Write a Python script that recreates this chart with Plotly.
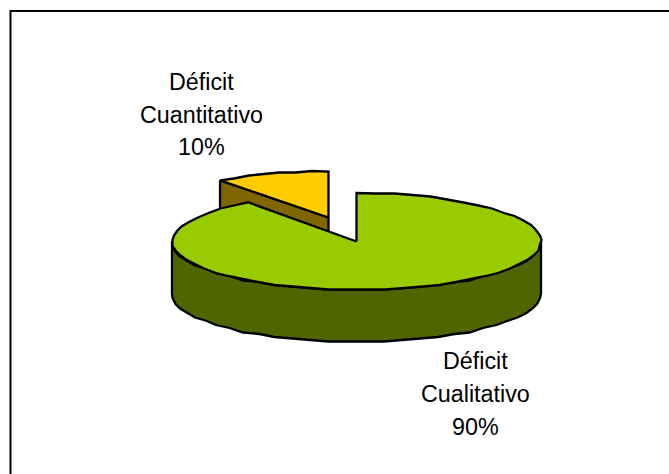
import math
import plotly.graph_objects as go

categories = ["Déficit Cuantitativo", "Déficit Cualitativo"]
values = [10, 90]
label_lines = [["Déficit", "Cuantitativo", "10%"], ["Déficit", "Cualitativo", "90%"]]

W, H = 669, 474
CX, CY = 356.5, 241.5
RX, RY = 184.5, 48.5
DEPTH = 52
EXPLODE = (-28, -24)
SMALL_RY = 46
STEP = 6
SNAP = 1.5

GREEN_TOP, GREEN_SIDE = "#99CC00", "#4F6600"
YELLOW_TOP, YELLOW_SIDE = "#FFCC00", "#806600"


def snap(v):
    return round(v / SNAP) * SNAP


def rim(cx, cy, start, end, rx=RX, ry=RY):
    """Ellipse points for clockwise-from-top angles in degrees."""
    n = max(2, int(abs(end - start) / STEP) + 1)
    pts = []
    for i in range(n + 1):
        a = math.radians(start + (end - start) * i / n)
        x, y = cx + rx * math.sin(a), cy - ry * math.cos(a)
        if 0 < i < n:
            x, y = snap(x), snap(y)
        pts.append((x, y))
    return pts


def poly(pts, fill, line="#000000", width=2.3):
    xs = [p[0] for p in pts] + [pts[0][0]]
    ys = [p[1] for p in pts] + [pts[0][1]]
    return go.Scatter(x=xs, y=ys, mode="lines", fill="toself", fillcolor=fill,
                      line=dict(color=line, width=width, simplify=False),
                      hoverinfo="skip", showlegend=False)


total = sum(values)
small_angle = 360 * values[0] / total

fig = go.Figure()

# exploded small slice: occupies the angles just before 12 o'clock
sx, sy = CX + EXPLODE[0], CY + EXPLODE[1]
small_rim = rim(sx, sy, -small_angle, 0, RX, SMALL_RY)
corner = small_rim[0]
fig.add_trace(poly([corner, (sx, sy), (sx, sy + DEPTH), (corner[0], corner[1] + DEPTH)], YELLOW_SIDE))
fig.add_trace(poly([(sx, sy)] + small_rim, YELLOW_TOP))

# large slice side wall, then its top
front = rim(CX, CY, 90, 270)
wall = front + [(x, y + DEPTH) for x, y in reversed(front)]
fig.add_trace(poly(wall, GREEN_SIDE))
fig.add_trace(poly([(CX, CY)] + rim(CX, CY, 0, 360 - small_angle), GREEN_TOP))

annotations = []
positions = [(201.5, [82, 114.5, 147]), (475, [361, 393.5, 427])]
for lines, (x, ys) in zip(label_lines, positions):
    for text, y in zip(lines, ys):
        annotations.append(dict(x=x, y=y, text=text, showarrow=False, xanchor="center", yanchor="middle",
                                font=dict(family="Liberation Sans, Arial, sans-serif", size=23.3, color="#000000")))

shapes = [
    dict(type="line", x0=10.5, x1=W, y0=11, y1=11, line=dict(color="#000000", width=2)),
    dict(type="line", x0=10.5, x1=10.5, y0=10, y1=H, line=dict(color="#000000", width=2)),
]

fig.update_layout(
    width=W, height=H, margin=dict(l=0, r=0, t=0, b=0, pad=0),
    paper_bgcolor="#FFFFFF", plot_bgcolor="#FFFFFF", showlegend=False,
    xaxis=dict(range=[0, W], visible=False, fixedrange=True),
    yaxis=dict(range=[H, 0], visible=False, fixedrange=True),
    annotations=annotations, shapes=shapes,
)
fig.write_html("out.html", config=dict(displayModeBar=False),
               post_script="document.body.style.margin='0';document.documentElement.style.overflow='hidden';")
